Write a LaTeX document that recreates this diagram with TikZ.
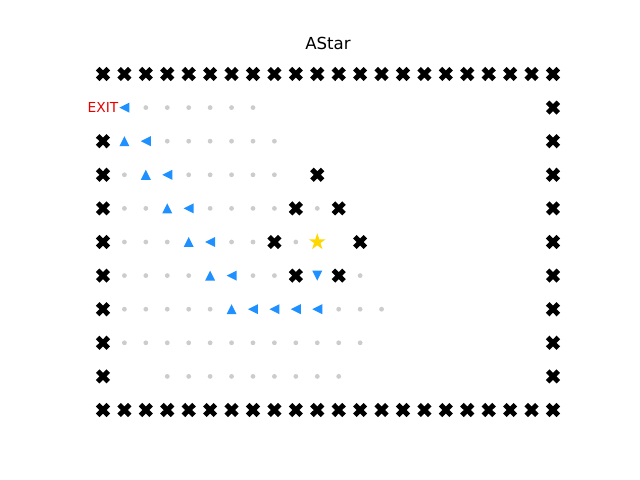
\documentclass[tikz,border=0pt]{standalone}
\usepackage{fontspec}
\setmainfont{DejaVu Sans}
\usepackage{tikz}
\usetikzlibrary{shapes.geometric}
\definecolor{pathblue}{RGB}{30,144,255}
\definecolor{goalgold}{RGB}{255,215,0}
\definecolor{seengray}{RGB}{204,204,204}
\definecolor{exitred}{RGB}{230,0,0}

\begin{document}
\begin{tikzpicture}[x=0.5357cm,y=-0.84cm,
    wall/.style={circle,inner sep=0pt,minimum size=0.45cm,
      path picture={\fill[shift={(path picture bounding box.center)}]
        (0.088cm,-0.177cm) -- (0.177cm,-0.088cm) -- (0.088cm,0cm) -- (0.177cm,0.088cm) -- (0.088cm,0.177cm) -- (0cm,0.088cm)
        -- (-0.088cm,0.177cm) -- (-0.177cm,0.088cm) -- (-0.088cm,0cm) -- (-0.177cm,-0.088cm) -- (-0.088cm,-0.177cm) -- (0cm,-0.088cm) -- cycle;}},
    seen/.style={circle,fill=seengray,inner sep=0pt,minimum size=0.12cm},
    tri/.style={circle,inner sep=0pt,minimum size=0.4cm},
    trileft/.style={tri,path picture={\fill[pathblue,shift={(path picture bounding box.center)}]
        (-0.125cm,0cm) -- (0.125cm,0.125cm) -- (0.125cm,-0.125cm) -- cycle;}},
    triup/.style={tri,path picture={\fill[pathblue,shift={(path picture bounding box.center)}]
        (0cm,0.125cm) -- (-0.125cm,-0.125cm) -- (0.125cm,-0.125cm) -- cycle;}},
    tridown/.style={tri,path picture={\fill[pathblue,shift={(path picture bounding box.center)}]
        (0cm,-0.125cm) -- (-0.125cm,0.125cm) -- (0.125cm,0.125cm) -- cycle;}},
    goal/.style={star,star points=5,star point ratio=2.618,fill=goalgold,inner sep=0pt,minimum size=0.44cm}]
  \useasboundingbox (-4.806,-2.202) rectangle (25.06,12.083);
  \node (title) at (10.5,-0.92) {\fontsize{11.8}{14}\selectfont AStar};
  % outer walls
  \foreach \c in {0,...,21} {
    \node[wall] (w-\c-0) at (\c,0) {};
    \node[wall] (w-\c-10) at (\c,10) {};
  }
  \foreach \r in {1,...,9} \node[wall] (w-21-\r) at (21,\r) {};
  \foreach \r in {2,...,9} \node[wall] (w-0-\r) at (0,\r) {};
  \node[text=exitred] (exit) at (0,1) {\fontsize{9.8}{12}\selectfont EXIT};
  % inner walls
  \foreach \c/\r in {10/3,9/4,11/4,8/5,12/5,9/6,11/6}
    \node[wall] (w-\c-\r) at (\c,\r) {};
  % explored cells
  \foreach \r/\cols in {1/{2,...,7},2/{3,...,8},3/{1,4,5,6,7,8},4/{1,2,5,6,7,8,10},
      5/{1,2,3,6,7,9},6/{1,2,3,4,7,8,12},7/{1,2,3,4,5,11,12,13},8/{1,...,12},9/{3,...,11}}
    \foreach \c in \cols \node[seen] (d-\c-\r) at (\c,\r) {};
  % path
  \foreach \c/\r in {1/1,2/2,3/3,4/4,5/5,6/6,7/7,8/7,9/7,10/7}
    \node[trileft] (l-\c-\r) at (\c,\r) {};
  \foreach \c/\r in {1/2,2/3,3/4,4/5,5/6,6/7}
    \node[triup] (u-\c-\r) at (\c,\r) {};
  \node[tridown] (start) at (10,6) {};
  \node[goal] (target) at (10,5) {};
\end{tikzpicture}
\end{document}
